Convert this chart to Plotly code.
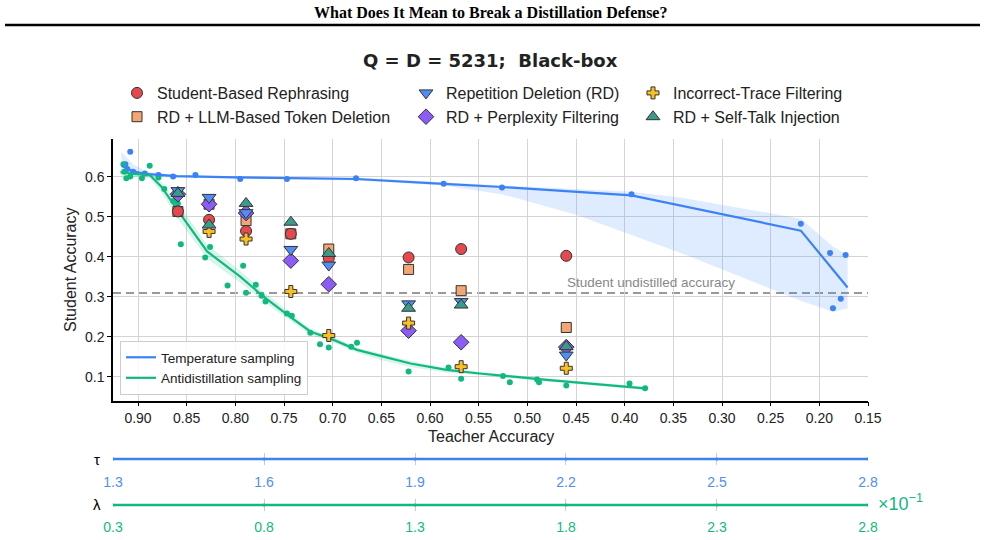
import plotly.graph_objects as go

W, H = 985, 540

# ---------------- data ----------------
# Temperature sampling (blue)
temp_teacher = [0.908, 0.913, 0.911, 0.905, 0.893, 0.879, 0.864, 0.841, 0.795, 0.747,
                0.676, 0.586, 0.526, 0.393, 0.219, 0.189, 0.173, 0.178, 0.186]
temp_student = [0.662, 0.631, 0.619, 0.612, 0.608, 0.604, 0.600, 0.604, 0.594, 0.594,
                0.596, 0.582, 0.573, 0.556, 0.482, 0.409, 0.404, 0.295, 0.271]
temp_fit_x = [0.917, 0.905, 0.890, 0.860, 0.800, 0.750, 0.676, 0.586, 0.526, 0.393, 0.219, 0.171]
temp_fit_y = [0.627, 0.613, 0.606, 0.601, 0.598, 0.596, 0.594, 0.582, 0.574, 0.553, 0.465, 0.323]
temp_band_x = [0.917, 0.905, 0.890, 0.860, 0.800, 0.750, 0.676, 0.586, 0.526, 0.450,
               0.393, 0.343, 0.219, 0.186, 0.171]
temp_band_lo = [0.612, 0.604, 0.600, 0.597, 0.595, 0.593, 0.590, 0.578, 0.556, 0.505,
                0.455, 0.410, 0.290, 0.262, 0.271]
temp_band_hi = [0.662, 0.630, 0.612, 0.604, 0.601, 0.599, 0.598, 0.585, 0.578, 0.569,
                0.562, 0.548, 0.495, 0.425, 0.404]

# Antidistillation sampling (green)
anti_teacher = [0.915, 0.914, 0.912, 0.908, 0.896, 0.888, 0.879, 0.873, 0.864, 0.859,
                0.856, 0.831, 0.826, 0.808, 0.792, 0.789, 0.779, 0.773, 0.769, 0.747,
                0.742, 0.723, 0.713, 0.704, 0.681, 0.675, 0.622, 0.581, 0.568, 0.525,
                0.518, 0.490, 0.488, 0.460, 0.395, 0.379]
anti_student = [0.631, 0.612, 0.596, 0.600, 0.596, 0.627, 0.598, 0.569, 0.539, 0.533,
                0.431, 0.398, 0.424, 0.328, 0.377, 0.310, 0.330, 0.302, 0.288, 0.258,
                0.252, 0.210, 0.181, 0.173, 0.175, 0.185, 0.113, 0.123, 0.095, 0.102,
                0.086, 0.093, 0.086, 0.078, 0.083, 0.071]
anti_fit_x = [0.918, 0.905, 0.888, 0.876, 0.857, 0.829, 0.795, 0.771, 0.744, 0.723,
              0.699, 0.675, 0.651, 0.620, 0.583, 0.549, 0.480, 0.420, 0.379]
anti_fit_y = [0.611, 0.607, 0.604, 0.575, 0.508, 0.413, 0.350, 0.300, 0.250, 0.213,
              0.192, 0.167, 0.152, 0.133, 0.117, 0.108, 0.092, 0.080, 0.071]
anti_band_lo = [0.603, 0.600, 0.596, 0.560, 0.488, 0.395, 0.335, 0.288, 0.240, 0.204,
                0.185, 0.160, 0.142, 0.124, 0.110, 0.104, 0.088, 0.076, 0.067]
anti_band_hi = [0.619, 0.613, 0.609, 0.588, 0.528, 0.430, 0.365, 0.312, 0.260, 0.220,
                0.199, 0.173, 0.158, 0.140, 0.122, 0.112, 0.096, 0.084, 0.075]

# Defense-breaking methods (one column per attacked teacher)
method_teacher = [0.859, 0.827, 0.789, 0.743, 0.704, 0.622, 0.568, 0.460]
rephrasing = [0.513, 0.492, 0.464, 0.457, 0.396, 0.398, 0.419, 0.402]
llm_deletion = [0.513, 0.531, 0.490, 0.457, 0.419, 0.368, 0.315, 0.223]
repetition = [0.565, 0.548, 0.510, 0.418, 0.379, 0.282, 0.288, 0.154]
perplexity = [0.556, 0.531, 0.509, 0.390, 0.331, 0.215, 0.186, 0.174]
incorrect = [None, 0.463, 0.444, 0.313, 0.203, 0.234, 0.125, 0.121]
selftalk = [0.558, 0.479, 0.533, 0.486, 0.408, 0.271, 0.279, 0.175]

undistilled_acc = 0.309

x_ticks = [0.90, 0.85, 0.80, 0.75, 0.70, 0.65, 0.60, 0.55, 0.50, 0.45, 0.40, 0.35,
           0.30, 0.25, 0.20, 0.15]
y_ticks = [0.1, 0.2, 0.3, 0.4, 0.5, 0.6]
tau_ticks = [1.3, 1.6, 1.9, 2.2, 2.5, 2.8]
lam_ticks = [0.3, 0.8, 1.3, 1.8, 2.3, 2.8]

# ---------------- styling ----------------
BLUE = "#3b82f6"
GREEN = "#10b981"
FONT = "Liberation Sans, Arial, sans-serif"

def px_x(p):
    return p / W

def px_y(p):
    return 1 - p / H

fig = go.Figure()

# confidence bands
fig.add_trace(go.Scatter(x=temp_band_x, y=temp_band_lo, mode="lines", line=dict(width=0),
                         showlegend=False, hoverinfo="skip"))
fig.add_trace(go.Scatter(x=temp_band_x, y=temp_band_hi, mode="lines", line=dict(width=0),
                         fill="tonexty", fillcolor="rgba(59,130,246,0.16)",
                         showlegend=False, hoverinfo="skip"))
fig.add_trace(go.Scatter(x=anti_fit_x, y=anti_band_lo, mode="lines", line=dict(width=0),
                         showlegend=False, hoverinfo="skip"))
fig.add_trace(go.Scatter(x=anti_fit_x, y=anti_band_hi, mode="lines", line=dict(width=0),
                         fill="tonexty", fillcolor="rgba(16,185,129,0.16)",
                         showlegend=False, hoverinfo="skip"))

# scatter points
fig.add_trace(go.Scatter(x=temp_teacher, y=temp_student, mode="markers",
                         marker=dict(size=6, color=BLUE), showlegend=False))
fig.add_trace(go.Scatter(x=anti_teacher, y=anti_student, mode="markers",
                         marker=dict(size=6, color=GREEN), showlegend=False))

# fit lines
fig.add_trace(go.Scatter(x=temp_fit_x, y=temp_fit_y, mode="lines",
                         line=dict(color=BLUE, width=2.2), name="Temperature sampling",
                         legend="legend4", legendrank=1))
fig.add_trace(go.Scatter(x=anti_fit_x, y=anti_fit_y, mode="lines",
                         line=dict(color=GREEN, width=2.2), name="Antidistillation sampling",
                         legend="legend4", legendrank=2))

# methods, in drawing order: (name, values, symbol, colour, size, legend, legend rank)
methods = [
    ("RD + LLM-Based Token Deletion", llm_deletion, "square", "#f4a574", 10, "legend", 2),
    ("Student-Based Rephrasing", rephrasing, "circle", "#e5484d", 11, "legend", 1),
    ("RD + Perplexity Filtering", perplexity, "diamond", "#8b5cf6", 12, "legend2", 2),
    ("Repetition Deletion (RD)", repetition, "triangle-down", "#4f8ef7", 12, "legend2", 1),
    ("Incorrect-Trace Filtering", incorrect, "cross", "#fbbf24", 10, "legend3", 1),
    ("RD + Self-Talk Injection", selftalk, "triangle-up", "#3a9b8c", 12, "legend3", 2),
]
for name, vals, sym, col, size, leg, rank in methods:
    fig.add_trace(go.Scatter(
        x=method_teacher, y=vals, mode="markers", name=name, legend=leg,
        legendrank=rank,
        marker=dict(symbol=sym, size=size, color=col, line=dict(color="#333333", width=1)),
    ))

# auxiliary parameter axes
fig.add_trace(go.Scatter(x=tau_ticks, y=[0] * len(tau_ticks), mode="lines+markers",
                         line=dict(color=BLUE, width=2.5), marker=dict(size=3, color=BLUE),
                         xaxis="x2", yaxis="y2", showlegend=False))
fig.add_trace(go.Scatter(x=lam_ticks, y=[0] * len(lam_ticks), mode="lines+markers",
                         line=dict(color=GREEN, width=2.5), marker=dict(size=3, color=GREEN),
                         xaxis="x3", yaxis="y3", showlegend=False))

x_dom = [px_x(113), px_x(868)]

def leg(xpx):
    return dict(x=px_x(xpx), y=px_y(76), xanchor="left", yanchor="top",
                bgcolor="rgba(0,0,0,0)", font=dict(size=16, family=FONT, color="#222"),
                tracegroupgap=0, itemwidth=30, traceorder="normal")

def ann(text, xpx, ypx, size, color="#222", family=FONT, **kw):
    d = dict(text=text, xref="paper", yref="paper", x=px_x(xpx), y=px_y(ypx),
             xanchor="center", yanchor="middle", showarrow=False,
             font=dict(family=family, size=size, color=color))
    d.update(kw)
    return d

fig.update_layout(
    width=W, height=H,
    margin=dict(l=0, r=0, t=0, b=0, autoexpand=False),
    paper_bgcolor="white", plot_bgcolor="white",
    font=dict(family=FONT, size=14, color="#222222"),
    xaxis=dict(domain=x_dom, range=[0.9257, 0.15], anchor="y", automargin=False,
               tickvals=x_ticks, ticktext=[f"{v:.2f}" for v in x_ticks],
               showgrid=True, gridcolor="#d4d4d4", gridwidth=1, zeroline=False,
               showline=True, linecolor="black", linewidth=1.5,
               ticks="outside", ticklen=4, tickcolor="black",
               tickfont=dict(size=14, color="#222222")),
    yaxis=dict(domain=[px_y(400.7), px_y(139)], range=[0.04, 0.694], anchor="x",
               automargin=False,
               tickvals=y_ticks, ticktext=[f"{v:.1f}" for v in y_ticks],
               showgrid=True, gridcolor="#d4d4d4", gridwidth=1, zeroline=False,
               showline=True, linecolor="black", linewidth=1.5,
               ticks="outside", ticklen=4, tickcolor="black",
               tickfont=dict(size=14, color="#222222")),
    xaxis2=dict(domain=x_dom, range=[1.2999, 2.8001], anchor="y2", automargin=False,
                tickvals=tau_ticks, ticktext=[f"{v:.1f}" for v in tau_ticks],
                showgrid=True, gridcolor="#cccccc", zeroline=False, showline=False,
                ticks="outside", ticklen=4, tickcolor="rgba(0,0,0,0)",
                tickfont=dict(size=14, color="#4f8ef7")),
    yaxis2=dict(domain=[px_y(465), px_y(453)], range=[-1, 1], anchor="x2", automargin=False,
                showgrid=False, zeroline=False, showline=False, showticklabels=False),
    xaxis3=dict(domain=x_dom, range=[0.2999, 2.8001], anchor="y3", automargin=False,
                tickvals=lam_ticks, ticktext=[f"{v:.1f}" for v in lam_ticks],
                showgrid=True, gridcolor="#cccccc", zeroline=False, showline=False,
                ticks="outside", ticklen=3, tickcolor="rgba(0,0,0,0)",
                tickfont=dict(size=14, color=GREEN)),
    yaxis3=dict(domain=[px_y(511), px_y(499)], range=[-1, 1], anchor="x3", automargin=False,
                showgrid=False, zeroline=False, showline=False, showticklabels=False),
    legend=leg(117),
    legend2=leg(406),
    legend3=leg(633),
    legend4=dict(x=px_x(120), y=px_y(341), xanchor="left", yanchor="top",
                 bgcolor="rgba(255,255,255,0.85)", bordercolor="#cccccc", borderwidth=1,
                 font=dict(size=13.5, family=FONT, color="#222"), itemwidth=30),
    shapes=[
        dict(type="line", xref="paper", yref="paper", x0=px_x(5), x1=px_x(980),
             y0=px_y(25), y1=px_y(25), line=dict(color="black", width=2.5)),
        dict(type="line", xref="x domain", yref="y", x0=0, x1=1,
             y0=undistilled_acc, y1=undistilled_acc, layer="below",
             line=dict(color="#999999", width=2, dash="8px,5px")),
    ],
    annotations=[
        ann("<b>What Does It Mean to Break a Distillation Defense?</b>", 490, 13, 16,
            color="black", family="Liberation Serif, Times New Roman, serif"),
        ann("<b>Q = D = 5231;&nbsp; Black-box</b>", 490, 60, 18,
            family="DejaVu Sans, sans-serif"),
        ann("Teacher Accuracy", 490.5, 436, 16),
        ann("Student Accuracy", 70, 270, 16, textangle=-90),
        dict(text="Student undistilled accuracy", xref="x", yref="y", x=0.373,
             y=undistilled_acc, xanchor="center", yanchor="bottom", yshift=1,
             showarrow=False, font=dict(size=13.5, color="#888888")),
        ann("τ", 97, 459, 15, color="black"),
        ann("λ", 97, 504, 15, color="black"),
        ann("×10<sup>−1</sup>", 876, 502, 18, color=GREEN, xanchor="left"),
    ],
)

fig.write_html("out.html")
